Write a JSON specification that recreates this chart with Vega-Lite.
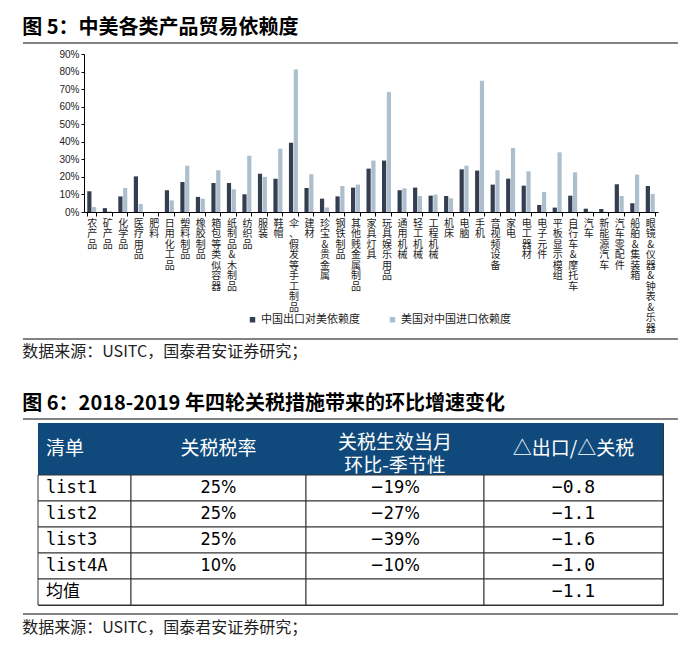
{
  "$schema": "https://vega.github.io/schema/vega-lite/v6.json",
  "background": "white",
  "padding": {"left": 22, "top": 18, "right": 0, "bottom": 10},
  "autosize": {"type": "pad"},
  "config": {
    "view": {"stroke": null},
    "font": "Noto Sans CJK SC",
    "title": {"font": "Noto Sans CJK SC", "color": "#000", "anchor": "start"},
    "axis": {"grid": false}
  },
  "datasets": {
    "one": [{"v": 0}],
    "hdr": [{"清单": "H1"}, {"清单": "H2"}],
    "table": [
      {"清单": "list1", "税率": "25%", "环比": "−19%", "比值": "−0.8"},
      {"清单": "list2", "税率": "25%", "环比": "−27%", "比值": "−1.1"},
      {"清单": "list3", "税率": "25%", "环比": "−39%", "比值": "−1.6"},
      {"清单": "list4A", "税率": "10%", "环比": "−10%", "比值": "−1.0"},
      {"清单": "均值", "税率": "", "环比": "", "比值": "−1.1"}
    ],
    "bars": [
      {"品类": "农产品", "系列": "中国出口对美依赖度", "依赖度": 0.118},
      {"品类": "农产品", "系列": "美国对中国进口依赖度", "依赖度": 0.028},
      {"品类": "矿产品", "系列": "中国出口对美依赖度", "依赖度": 0.022},
      {"品类": "矿产品", "系列": "美国对中国进口依赖度", "依赖度": 0.004},
      {"品类": "化学品", "系列": "中国出口对美依赖度", "依赖度": 0.089},
      {"品类": "化学品", "系列": "美国对中国进口依赖度", "依赖度": 0.137},
      {"品类": "医疗用品", "系列": "中国出口对美依赖度", "依赖度": 0.203},
      {"品类": "医疗用品", "系列": "美国对中国进口依赖度", "依赖度": 0.046},
      {"品类": "肥料", "系列": "中国出口对美依赖度", "依赖度": 0},
      {"品类": "肥料", "系列": "美国对中国进口依赖度", "依赖度": 0},
      {"品类": "日用化工品", "系列": "中国出口对美依赖度", "依赖度": 0.124},
      {"品类": "日用化工品", "系列": "美国对中国进口依赖度", "依赖度": 0.066},
      {"品类": "塑料制品", "系列": "中国出口对美依赖度", "依赖度": 0.171},
      {"品类": "塑料制品", "系列": "美国对中国进口依赖度", "依赖度": 0.264},
      {"品类": "橡胶制品", "系列": "中国出口对美依赖度", "依赖度": 0.086},
      {"品类": "橡胶制品", "系列": "美国对中国进口依赖度", "依赖度": 0.076},
      {"品类": "箱包等类似容器", "系列": "中国出口对美依赖度", "依赖度": 0.165},
      {"品类": "箱包等类似容器", "系列": "美国对中国进口依赖度", "依赖度": 0.238},
      {"品类": "纸制品&木制品", "系列": "中国出口对美依赖度", "依赖度": 0.165},
      {"品类": "纸制品&木制品", "系列": "美国对中国进口依赖度", "依赖度": 0.129},
      {"品类": "纺织品", "系列": "中国出口对美依赖度", "依赖度": 0.101},
      {"品类": "纺织品", "系列": "美国对中国进口依赖度", "依赖度": 0.321},
      {"品类": "服装", "系列": "中国出口对美依赖度", "依赖度": 0.218},
      {"品类": "服装", "系列": "美国对中国进口依赖度", "依赖度": 0.2},
      {"品类": "鞋帽", "系列": "中国出口对美依赖度", "依赖度": 0.19},
      {"品类": "鞋帽", "系列": "美国对中国进口依赖度", "依赖度": 0.361},
      {"品类": "伞、假发等手工制品", "系列": "中国出口对美依赖度", "依赖度": 0.395},
      {"品类": "伞、假发等手工制品", "系列": "美国对中国进口依赖度", "依赖度": 0.812},
      {"品类": "建材", "系列": "中国出口对美依赖度", "依赖度": 0.137},
      {"品类": "建材", "系列": "美国对中国进口依赖度", "依赖度": 0.215},
      {"品类": "珍宝&贵金属", "系列": "中国出口对美依赖度", "依赖度": 0.076},
      {"品类": "珍宝&贵金属", "系列": "美国对中国进口依赖度", "依赖度": 0.025},
      {"品类": "钢铁制品", "系列": "中国出口对美依赖度", "依赖度": 0.089},
      {"品类": "钢铁制品", "系列": "美国对中国进口依赖度", "依赖度": 0.148},
      {"品类": "其他贱金属制品", "系列": "中国出口对美依赖度", "依赖度": 0.139},
      {"品类": "其他贱金属制品", "系列": "美国对中国进口依赖度", "依赖度": 0.156},
      {"品类": "家具灯具", "系列": "中国出口对美依赖度", "依赖度": 0.247},
      {"品类": "家具灯具", "系列": "美国对中国进口依赖度", "依赖度": 0.293},
      {"品类": "玩具娱乐用品", "系列": "中国出口对美依赖度", "依赖度": 0.293},
      {"品类": "玩具娱乐用品", "系列": "美国对中国进口依赖度", "依赖度": 0.683},
      {"品类": "通用机械", "系列": "中国出口对美依赖度", "依赖度": 0.124},
      {"品类": "通用机械", "系列": "美国对中国进口依赖度", "依赖度": 0.135},
      {"品类": "轻工机械", "系列": "中国出口对美依赖度", "依赖度": 0.139},
      {"品类": "轻工机械", "系列": "美国对中国进口依赖度", "依赖度": 0.091},
      {"品类": "工程机械", "系列": "中国出口对美依赖度", "依赖度": 0.093},
      {"品类": "工程机械", "系列": "美国对中国进口依赖度", "依赖度": 0.099},
      {"品类": "机床", "系列": "中国出口对美依赖度", "依赖度": 0.091},
      {"品类": "机床", "系列": "美国对中国进口依赖度", "依赖度": 0.078},
      {"品类": "电脑", "系列": "中国出口对美依赖度", "依赖度": 0.243},
      {"品类": "电脑", "系列": "美国对中国进口依赖度", "依赖度": 0.264},
      {"品类": "手机", "系列": "中国出口对美依赖度", "依赖度": 0.236},
      {"品类": "手机", "系列": "美国对中国进口依赖度", "依赖度": 0.747},
      {"品类": "音视频设备", "系列": "中国出口对美依赖度", "依赖度": 0.156},
      {"品类": "音视频设备", "系列": "美国对中国进口依赖度", "依赖度": 0.238},
      {"品类": "家电", "系列": "中国出口对美依赖度", "依赖度": 0.19},
      {"品类": "家电", "系列": "美国对中国进口依赖度", "依赖度": 0.365},
      {"品类": "电工器材", "系列": "中国出口对美依赖度", "依赖度": 0.15},
      {"品类": "电工器材", "系列": "美国对中国进口依赖度", "依赖度": 0.232},
      {"品类": "电子元件", "系列": "中国出口对美依赖度", "依赖度": 0.04},
      {"品类": "电子元件", "系列": "美国对中国进口依赖度", "依赖度": 0.114},
      {"品类": "平板显示模组", "系列": "中国出口对美依赖度", "依赖度": 0.025},
      {"品类": "平板显示模组", "系列": "美国对中国进口依赖度", "依赖度": 0.34},
      {"品类": "自行车&摩托车", "系列": "中国出口对美依赖度", "依赖度": 0.093},
      {"品类": "自行车&摩托车", "系列": "美国对中国进口依赖度", "依赖度": 0.226},
      {"品类": "汽车", "系列": "中国出口对美依赖度", "依赖度": 0.019},
      {"品类": "汽车", "系列": "美国对中国进口依赖度", "依赖度": 0.003},
      {"品类": "新能源汽车", "系列": "中国出口对美依赖度", "依赖度": 0.017},
      {"品类": "新能源汽车", "系列": "美国对中国进口依赖度", "依赖度": 0.002},
      {"品类": "汽车零配件", "系列": "中国出口对美依赖度", "依赖度": 0.158},
      {"品类": "汽车零配件", "系列": "美国对中国进口依赖度", "依赖度": 0.091},
      {"品类": "船舶&集装箱", "系列": "中国出口对美依赖度", "依赖度": 0.05},
      {"品类": "船舶&集装箱", "系列": "美国对中国进口依赖度", "依赖度": 0.213},
      {"品类": "眼镜&仪器&钟表&乐器", "系列": "中国出口对美依赖度", "依赖度": 0.148},
      {"品类": "眼镜&仪器&钟表&乐器", "系列": "美国对中国进口依赖度", "依赖度": 0.103}
    ]
  },
  "spacing": 0,
  "bounds": "full",
  "vconcat": [
    {
      "width": 655, "height": 6,
      "title": {"text": "图 5：中美各类产品贸易依赖度", "fontSize": 20, "fontWeight": "bold", "offset": 4},
      "data": {"name": "one"},
      "mark": {"type": "rule", "color": "#595959", "strokeWidth": 1.5},
      "encoding": {"y": {"datum": 1, "type": "quantitative", "scale": {"domain": [0, 1]}, "axis": null}}
    },
    {
      "spacing": 0,
      "bounds": "flush",
      "hconcat": [
        {"width": 61, "height": 158, "data": {"name": "one"}, "mark": "text", "encoding": {"text": {"value": ""}}},
        {
          "width": 574, "height": 158,
          "data": {"name": "bars"},
          "mark": {"type": "bar"},
          "encoding": {
            "x": {
              "field": "品类", "type": "nominal", "sort": null,
              "scale": {"paddingInner": 0.42, "paddingOuter": 0.21},
              "axis": {"title": null, "labelAngle": 0, "labelAlign": "center", "labelBaseline": "top", "labelExpr": "split(datum.label, '')", "labelFont": "Noto Sans CJK SC", "labelFontSize": 10, "labelLineHeight": 10.5, "labelColor": "#222", "labelPadding": 2, "labelOverlap": false, "labelLimit": 0, "tickBand": "extent", "tickSize": 4, "tickColor": "#000", "domainColor": "#000"}
            },
            "xOffset": {"field": "系列", "type": "nominal", "sort": ["中国出口对美依赖度", "美国对中国进口依赖度"], "scale": {"paddingInner": 0.12}},
            "y": {
              "field": "依赖度", "type": "quantitative",
              "scale": {"domain": [0, 0.9], "nice": false},
              "axis": {"title": null, "format": ".0%", "values": [0, 0.1, 0.2, 0.3, 0.4, 0.5, 0.6, 0.7, 0.8, 0.9], "grid": false, "labelFont": "Liberation Sans", "labelFontSize": 10, "labelColor": "#222", "tickSize": 3, "tickColor": "#000", "domainColor": "#000", "labelPadding": 2}
            },
            "color": {
              "field": "系列", "type": "nominal", "sort": ["中国出口对美依赖度", "美国对中国进口依赖度"],
              "scale": {"range": ["#333F50", "#ADBFCC"]},
              "legend": {"title": null, "orient": "none", "legendX": 224, "legendY": 271, "direction": "horizontal", "symbolType": "square", "symbolSize": 30, "symbolStrokeWidth": 0, "labelFont": "Noto Sans CJK SC", "labelFontSize": 11, "labelColor": "#222", "columnPadding": 27, "labelOffset": 3}
            }
          }
        }
      ]
    },
    {
      "width": 655, "height": 6,
      "title": {"text": "数据来源：USITC，国泰君安证券研究；", "orient": "bottom", "fontSize": 16, "fontWeight": "normal", "offset": 4, "color": "#222"},
      "data": {"name": "one"},
      "mark": {"type": "rule", "color": "#595959", "strokeWidth": 1.5},
      "encoding": {"y": {"datum": 0, "type": "quantitative", "scale": {"domain": [0, 1]}, "axis": null}}
    },
    {"width": 655, "height": 34, "data": {"name": "one"}, "mark": "text", "encoding": {"text": {"value": ""}}},
    {
      "width": 655, "height": 3,
      "title": {"text": "图 6：2018-2019 年四轮关税措施带来的环比增速变化", "fontSize": 20, "fontWeight": "bold", "offset": 4},
      "data": {"name": "one"},
      "mark": {"type": "rule", "color": "#595959", "strokeWidth": 1.5},
      "encoding": {"y": {"datum": 1, "type": "quantitative", "scale": {"domain": [0, 1]}, "axis": null}}
    },
    {
      "spacing": 0,
      "bounds": "flush",
      "hconcat": [
        {"width": 15, "height": 182, "data": {"name": "one"}, "mark": "text", "encoding": {"text": {"value": ""}}},
        {
          "width": 93, "height": 182,
          "view": {"stroke": "#333", "strokeWidth": 1},
          "layer": [
            {"data": {"name": "hdr"}, "mark": {"type": "rect", "fill": "#104A7C"}, "encoding": {"y": {"field": "清单", "type": "nominal", "sort": null, "scale": {"type": "band", "domain": ["H1", "H2", "list1", "list2", "list3", "list4A", "均值"], "paddingInner": 0, "paddingOuter": 0}, "axis": null}}},
            {"data": {"name": "table"}, "mark": {"type": "rect", "fill": "#ffffff", "stroke": "#333", "strokeWidth": 1}, "encoding": {"y": {"field": "清单", "type": "nominal", "sort": null, "axis": null}}},
            {"data": {"name": "table"}, "mark": {"type": "text", "align": "left", "dx": -38.5, "font": "DejaVu Sans Mono, Noto Sans CJK SC", "fontSize": 17, "color": "#000"}, "encoding": {"y": {"field": "清单", "type": "nominal", "sort": null, "axis": null}, "text": {"field": "清单"}}},
            {"data": {"name": "one"}, "mark": {"type": "text", "text": "清单", "align": "left", "dx": -38.5, "baseline": "middle", "font": "Noto Sans CJK SC", "fontSize": 19, "color": "#ffffff"}, "encoding": {"y": {"datum": "H2", "type": "nominal", "bandPosition": 0, "axis": null}}}
          ]
        },
        {
          "width": 175, "height": 182,
          "view": {"stroke": "#333", "strokeWidth": 1},
          "layer": [
            {"data": {"name": "hdr"}, "mark": {"type": "rect", "fill": "#104A7C"}, "encoding": {"y": {"field": "清单", "type": "nominal", "sort": null, "scale": {"type": "band", "domain": ["H1", "H2", "list1", "list2", "list3", "list4A", "均值"], "paddingInner": 0, "paddingOuter": 0}, "axis": null}}},
            {"data": {"name": "table"}, "mark": {"type": "rect", "fill": "#ffffff", "stroke": "#333", "strokeWidth": 1}, "encoding": {"y": {"field": "清单", "type": "nominal", "sort": null, "axis": null}}},
            {"data": {"name": "table"}, "mark": {"type": "text", "font": "Liberation Sans Narrow, DejaVu Sans Condensed, Liberation Sans", "fontSize": 18, "color": "#000"}, "encoding": {"y": {"field": "清单", "type": "nominal", "sort": null, "axis": null}, "text": {"field": "税率"}}},
            {"data": {"name": "one"}, "mark": {"type": "text", "text": "关税税率", "baseline": "middle", "font": "Noto Sans CJK SC", "fontSize": 19, "color": "#ffffff"}, "encoding": {"y": {"datum": "H2", "type": "nominal", "bandPosition": 0, "axis": null}}}
          ]
        },
        {
          "width": 178, "height": 182,
          "view": {"stroke": "#333", "strokeWidth": 1},
          "layer": [
            {"data": {"name": "hdr"}, "mark": {"type": "rect", "fill": "#104A7C"}, "encoding": {"y": {"field": "清单", "type": "nominal", "sort": null, "scale": {"type": "band", "domain": ["H1", "H2", "list1", "list2", "list3", "list4A", "均值"], "paddingInner": 0, "paddingOuter": 0}, "axis": null}}},
            {"data": {"name": "table"}, "mark": {"type": "rect", "fill": "#ffffff", "stroke": "#333", "strokeWidth": 1}, "encoding": {"y": {"field": "清单", "type": "nominal", "sort": null, "axis": null}}},
            {"data": {"name": "table"}, "mark": {"type": "text", "font": "Liberation Sans Narrow, DejaVu Sans Condensed, Liberation Sans", "fontSize": 18, "color": "#000"}, "encoding": {"y": {"field": "清单", "type": "nominal", "sort": null, "axis": null}, "text": {"field": "环比"}}},
            {"data": {"name": "one"}, "mark": {"type": "text", "text": ["关税生效当月", "环比-季节性"], "lineHeight": 23, "baseline": "middle", "dy": -6, "font": "Noto Sans CJK SC", "fontSize": 19, "color": "#ffffff"}, "encoding": {"y": {"datum": "H2", "type": "nominal", "bandPosition": 0, "axis": null}}}
          ]
        },
        {
          "width": 179, "height": 182,
          "view": {"stroke": "#333", "strokeWidth": 1},
          "layer": [
            {"data": {"name": "hdr"}, "mark": {"type": "rect", "fill": "#104A7C"}, "encoding": {"y": {"field": "清单", "type": "nominal", "sort": null, "scale": {"type": "band", "domain": ["H1", "H2", "list1", "list2", "list3", "list4A", "均值"], "paddingInner": 0, "paddingOuter": 0}, "axis": null}}},
            {"data": {"name": "table"}, "mark": {"type": "rect", "fill": "#ffffff", "stroke": "#333", "strokeWidth": 1}, "encoding": {"y": {"field": "清单", "type": "nominal", "sort": null, "axis": null}}},
            {"data": {"name": "table"}, "mark": {"type": "text", "font": "DejaVu Sans Mono", "fontSize": 18, "color": "#000"}, "encoding": {"y": {"field": "清单", "type": "nominal", "sort": null, "axis": null}, "text": {"field": "比值"}}},
            {"data": {"name": "one"}, "mark": {"type": "text", "text": "△出口/△关税", "baseline": "middle", "font": "Noto Sans CJK SC", "fontSize": 19, "color": "#ffffff"}, "encoding": {"y": {"datum": "H2", "type": "nominal", "bandPosition": 0, "axis": null}}}
          ]
        }
      ]
    },
    {
      "width": 655, "height": 8,
      "title": {"text": "数据来源：USITC，国泰君安证券研究；", "orient": "bottom", "fontSize": 16, "fontWeight": "normal", "offset": 5, "color": "#222"},
      "data": {"name": "one"},
      "mark": {"type": "rule", "color": "#595959", "strokeWidth": 1.5},
      "encoding": {"y": {"datum": 0, "type": "quantitative", "scale": {"domain": [0, 1]}, "axis": null}}
    }
  ]
}
